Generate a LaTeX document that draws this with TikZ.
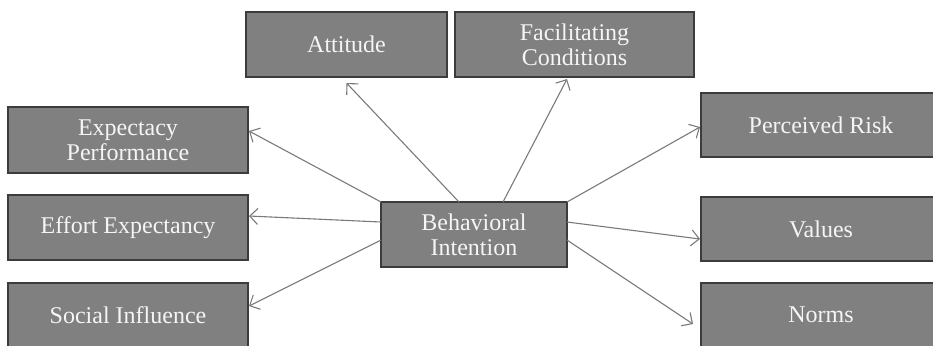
\documentclass[tikz,border=0pt]{standalone}
\usepackage{fontspec}
\setmainfont{Liberation Serif}
\usetikzlibrary{arrows.meta,calc}
\definecolor{boxgray}{HTML}{808080}
\definecolor{edgegray}{HTML}{3C3C3C}
\definecolor{arrgray}{HTML}{7A7A7A}
\tikzset{
  factor/.style={draw=edgegray, line width=0.6pt, fill=boxgray, text=white!96!black,
    minimum width=120pt, minimum height=32.5pt, inner sep=0pt, outer sep=0pt,
    align=center, font=\fontsize{12}{12.5}\selectfont},
  arr/.style={draw=arrgray, line width=0.55pt, -{Straight Barb[length=4pt,width=8pt]}}
}
\begin{document}
\begin{tikzpicture}[x=0.5pt, y=-0.5pt]
    \useasboundingbox (0,0) rectangle (933,345);
    \clip (0,0) rectangle (933,345);
    \node[factor, minimum width=100.5pt] (att) at (346.5,44.5) {Attitude};
    \node[factor, minimum width=119.5pt] (fac) at (574.5,44.5) {Facilitating\\Conditions};
    \node[factor, minimum height=33pt] (exp) at (128,140) {Expectacy\\Performance};
    \node[factor] (eff) at (128,227.5) {Effort Expectancy};
    \node[factor] (soc) at (128,315.5) {Social Influence};
    \node[factor, minimum width=93pt] (bi) at (474,234.5) {Behavioral\\Intention};
    \node[factor, minimum height=32pt] (per) at (821,125) {Perceived Risk};
    \node[factor, minimum height=32pt] (val) at (821,229) {Values};
    \node[factor, minimum height=32pt] (nor) at (821,315) {Norms};
    % arrows out of the central node
    \draw[arr] ($(bi.north)+(-15,0)$) -- ($(att.south)+(0,6)$);
    \draw[arr] ($(bi.north)+(29,0)$) -- ($(fac.south)+(-7.5,2)$);
    \draw[arr] (bi.north west) -- ($(exp.east)+(1,-9)$);
    \draw[arr] ($(bi.west)+(0,-12.5)$) -- ($(eff.east)+(1,-11.5)$);
    \draw[arr] ($(bi.west)+(0,5.5)$) -- ($(soc.east)+(1,-9.5)$);
    \draw[arr] (bi.north east) -- ($(per.west)+(-1,2)$);
    \draw[arr] ($(bi.east)+(0,-12.5)$) -- ($(val.west)+(-1,10)$);
    \draw[arr] ($(bi.east)+(0,5.5)$) -- ($(nor.west)+(-8,9)$);
\end{tikzpicture}
\end{document}
